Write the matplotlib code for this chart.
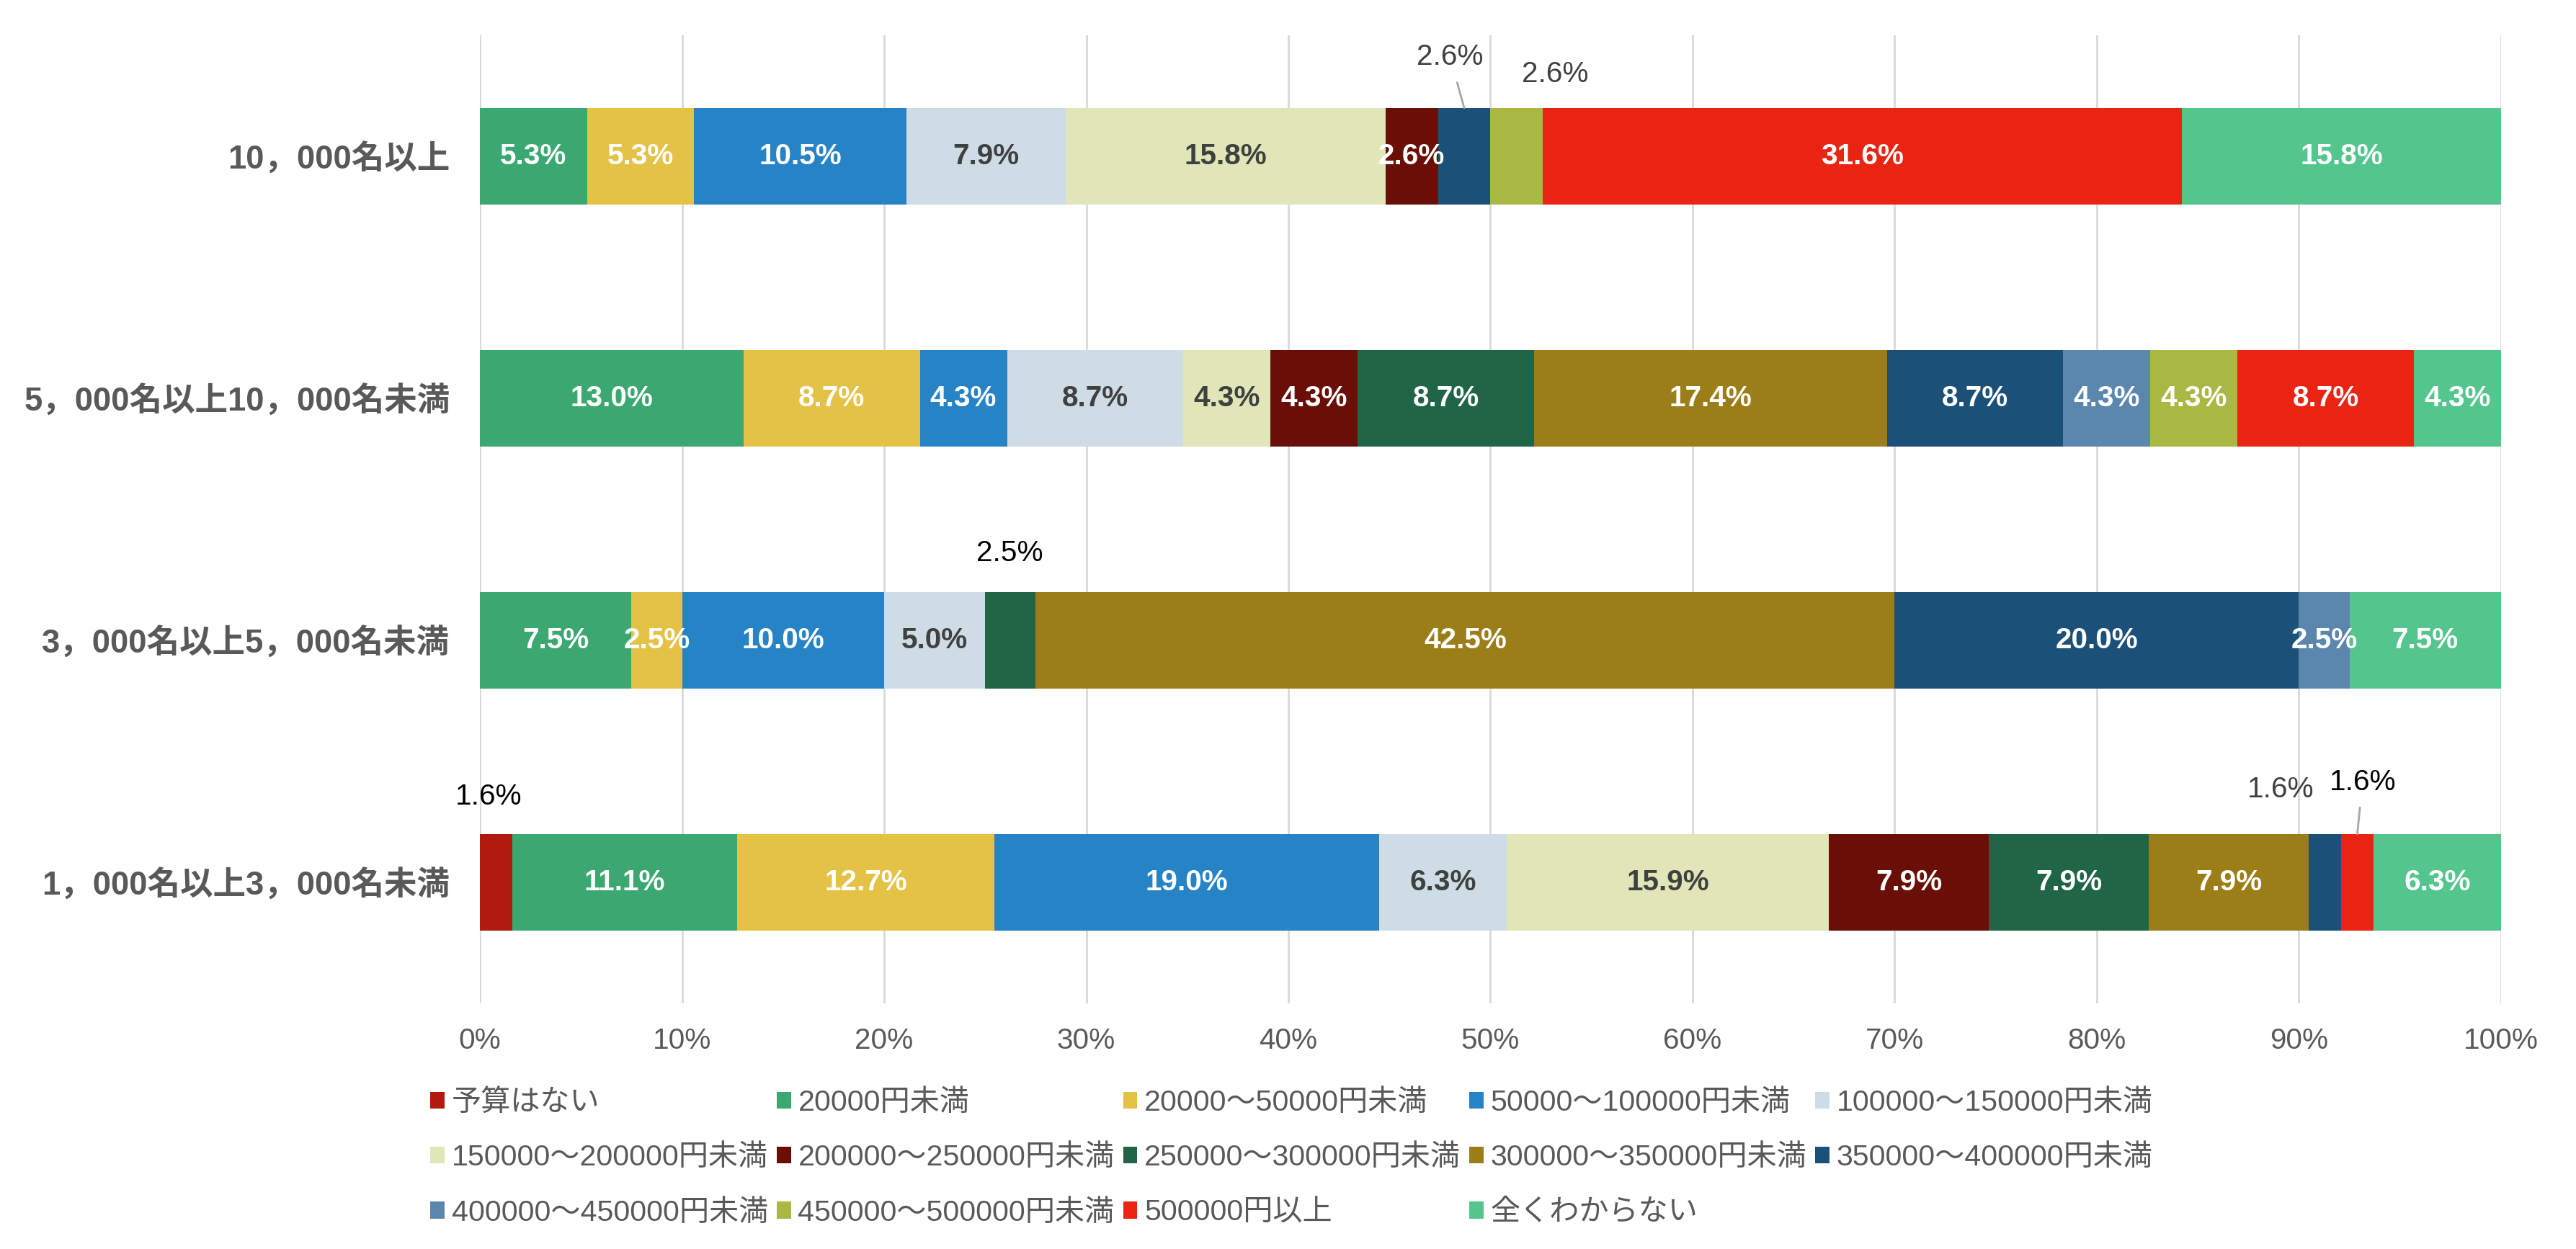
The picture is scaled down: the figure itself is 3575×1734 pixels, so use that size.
import matplotlib
matplotlib.use('Agg')
import matplotlib.pyplot as plt

plt.rcParams['font.family'] = ['Liberation Sans', 'Noto Sans CJK JP', 'DejaVu Sans']

# categories, bottom to top
categories = ['1，000名以上3，000名未満', '3，000名以上5，000名未満',
              '5，000名以上10，000名未満', '10，000名以上']

series = ['予算はない', '20000円未満', '20000～50000円未満', '50000～100000円未満',
          '100000～150000円未満', '150000～200000円未満', '200000～250000円未満',
          '250000～300000円未満', '300000～350000円未満', '350000～400000円未満',
          '400000～450000円未満', '450000～500000円未満', '500000円以上', '全くわからない']

colors = ['#B21A10', '#3AA870', '#E4C245', '#2683C6', '#CEDCE5', '#E0E6B8', '#6A0F08',
          '#206546', '#9C7E18', '#1B5078', '#5B87AE', '#A9B842', '#E92412', '#53C58D']

# values per series (%), one per category (bottom to top)
values = [
    [1.6, 0.0, 0.0, 0.0],     # 予算はない
    [11.1, 7.5, 13.0, 5.3],   # 20000円未満
    [12.7, 2.5, 8.7, 5.3],
    [19.0, 10.0, 4.3, 10.5],
    [6.3, 5.0, 8.7, 7.9],
    [15.9, 0.0, 4.3, 15.8],
    [7.9, 0.0, 4.3, 2.6],
    [7.9, 2.5, 8.7, 0.0],
    [7.9, 42.5, 17.4, 0.0],
    [1.6, 20.0, 8.7, 2.6],
    [0.0, 2.5, 4.3, 0.0],
    [0.0, 0.0, 4.3, 2.6],
    [1.6, 0.0, 8.7, 31.6],
    [6.3, 7.5, 4.3, 15.8],
]

# labels drawn above the bar: (series idx, category idx, label x, label y, colour, leader line)
outside = [
    (9, 3, 48.0, 3.41, '#404040', True),
    (11, 3, 53.2, 3.34, '#404040', False),
    (7, 1, 26.2, 1.36, '#000000', False),
    (0, 0, 0.45, 0.355, '#000000', False),
    (9, 0, 89.1, 0.385, '#404040', False),
    (12, 0, 93.15, 0.415, '#000000', True),
]
dark_text_series = [4, 5]

GRAY = '#595959'
BAR_H = 0.4
FS = 14.6

fig = plt.figure(figsize=(17.875, 8.67), dpi=200)
ax = fig.add_axes([0.1863, 0.1967, 0.7846, 0.775])

# 100% stacked: each row scaled to its own total
totals = [sum(v[c] for v in values) for c in range(len(categories))]
ypos = list(range(len(categories)))
left = [0.0] * len(categories)
handles = []
starts = []
widths = []
for i, (name, vals) in enumerate(zip(series, values)):
    w = [v * 100.0 / t for v, t in zip(vals, totals)]
    bars = ax.barh(ypos, w, left=left, height=BAR_H, color=colors[i],
                   label=name, linewidth=0, zorder=2)
    handles.append(bars)
    starts.append(list(left))
    widths.append(w)
    left = [l + x for l, x in zip(left, w)]

out_keys = {(s, c) for s, c, *_ in outside}
for i, vals in enumerate(values):
    for c, v in enumerate(vals):
        if v <= 0 or (i, c) in out_keys:
            continue
        col = '#404040' if i in dark_text_series else 'white'
        ax.text(starts[i][c] + widths[i][c] / 2, c, f'{v:.1f}%', ha='center',
                va='center', fontsize=FS, fontweight='bold', color=col, zorder=3)

for s, c, lx, ly, col, leader in outside:
    v = values[s][c]
    cx = starts[s][c] + widths[s][c] / 2
    if leader:
        ax.annotate(f'{v:.1f}%', xy=(cx, c + BAR_H / 2), xytext=(lx, ly),
                    ha='center', va='center', fontsize=FS, color=col,
                    arrowprops=dict(arrowstyle='-', color='#A6A6A6', lw=1.0,
                                    shrinkA=4, shrinkB=0), zorder=3)
    else:
        ax.text(lx, ly, f'{v:.1f}%', ha='center', va='center', fontsize=FS,
                color=col, zorder=3)

ax.set_xlim(0, 100)
ax.set_ylim(-0.5, len(categories) - 0.5)
ax.set_xticks(range(0, 101, 10))
ax.set_xticklabels([f'{t}%' for t in range(0, 101, 10)])
ax.set_yticks(ypos)
ax.set_yticklabels(categories, fontweight='bold')
ax.tick_params(axis='x', length=0, pad=12, labelsize=FS, labelcolor=GRAY)
ax.tick_params(axis='y', length=0, pad=15, labelsize=16.4, labelcolor=GRAY)
ax.grid(axis='x', color='#D9D9D9', lw=1.0, zorder=0)
ax.set_axisbelow(True)
for sp in ax.spines.values():
    sp.set_visible(False)

# legend filled row by row, 5 per row
n_col = 5
n_row = 3
order = []
for col in range(n_col):
    for row in range(n_row):
        k = row * n_col + col
        if k < len(series):
            order.append(k)
fig.legend([handles[k] for k in order], [series[k] for k in order],
           loc='upper left', bbox_to_anchor=(0.167, 0.128), ncol=n_col,
           frameon=False, fontsize=14.8, labelcolor=GRAY,
           handlelength=0.48, handleheight=0.5, handletextpad=0.24,
           columnspacing=0.29, labelspacing=0.93, borderpad=0, borderaxespad=0)

fig.savefig('out.png', dpi=200, facecolor='white')
